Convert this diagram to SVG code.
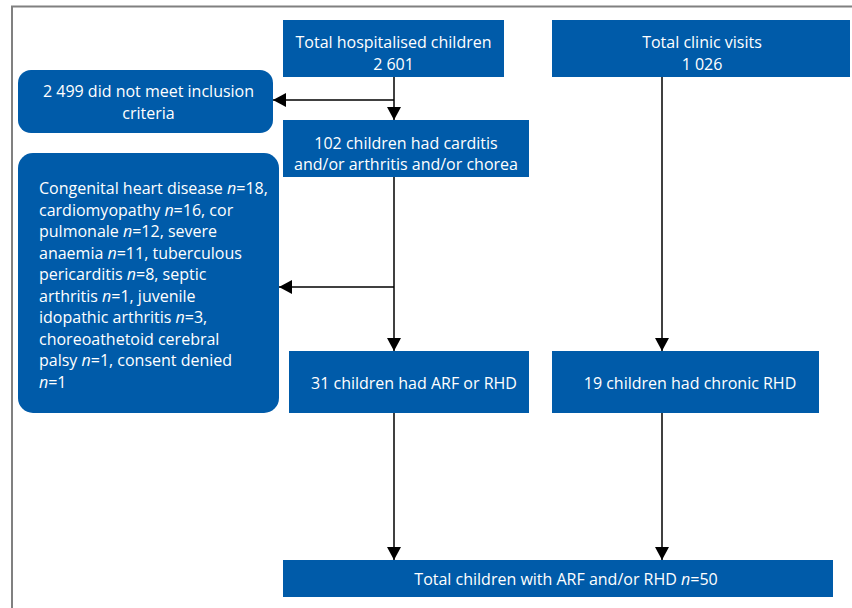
<svg xmlns="http://www.w3.org/2000/svg" width="852" height="608" viewBox="0 0 852 608">
<style>
.box{fill:#005BA9}
.t{font-family:"Open Sans","Noto Sans","Liberation Sans",sans-serif;font-size:16px;fill:#ffffff}
.c{text-anchor:middle}
.i{font-style:italic}
.ln{stroke:#000;stroke-width:1.5;fill:none}
.frame{stroke:#808080;stroke-width:2;fill:none}
</style>
<defs>
<marker id="ah" markerUnits="userSpaceOnUse" markerWidth="13" markerHeight="14" viewBox="0 0 13 14" refX="13" refY="7" orient="auto">
<path d="M0,0 L13,7 L0,14 z" fill="#000"/>
</marker>
</defs>
<rect width="852" height="608" fill="#fff"/>
<path class="frame" d="M12,608 L12,6.5 L852,6.5"/>

<g id="connectors">
<line class="ln" x1="394" y1="77" x2="394" y2="120" marker-end="url(#ah)"/>
<line class="ln" x1="394" y1="100" x2="273" y2="100" marker-end="url(#ah)"/>
<line class="ln" x1="394" y1="177" x2="394" y2="351" marker-end="url(#ah)"/>
<line class="ln" x1="394" y1="287" x2="279" y2="287" marker-end="url(#ah)"/>
<line class="ln" x1="662" y1="77" x2="662" y2="351" marker-end="url(#ah)"/>
<line class="ln" x1="394" y1="413" x2="394" y2="560" marker-end="url(#ah)"/>
<line class="ln" x1="662" y1="413" x2="662" y2="560" marker-end="url(#ah)"/>
</g>

<g id="hospitalised">
<rect class="box" x="283" y="20" width="221" height="57"/>
<text class="t c" x="393.5" y="48">Total hospitalised children</text>
<text class="t c" x="393.5" y="70">2 601</text>
</g>

<g id="clinic">
<rect class="box" x="552" y="20" width="298" height="57"/>
<text class="t c" x="702" y="48">Total clinic visits</text>
<text class="t c" x="702" y="70">1 026</text>
</g>

<g id="excluded">
<rect class="box" x="18" y="70" width="255" height="63" rx="13"/>
<text class="t c" x="148.5" y="97">2 499 did not meet inclusion</text>
<text class="t c" x="148.5" y="118.5">criteria</text>
</g>

<g id="carditis">
<rect class="box" x="283" y="120" width="246" height="57"/>
<text class="t c" x="406" y="149">102 children had carditis</text>
<text class="t c" x="406" y="169.5">and/or arthritis and/or chorea</text>
</g>

<g id="other-diagnoses">
<rect class="box" x="18" y="153" width="261" height="260" rx="15"/>
<text class="t" x="39" y="194">Congenital heart disease <tspan class="i">n</tspan>=18,</text>
<text class="t" x="39" y="215.5">cardiomyopathy <tspan class="i">n</tspan>=16, cor</text>
<text class="t" x="39" y="237">pulmonale <tspan class="i">n</tspan>=12, severe</text>
<text class="t" x="39" y="258.5">anaemia <tspan class="i">n</tspan>=11, tuberculous</text>
<text class="t" x="39" y="280">pericarditis <tspan class="i">n</tspan>=8, septic</text>
<text class="t" x="39" y="301.5">arthritis <tspan class="i">n</tspan>=1, juvenile</text>
<text class="t" x="39" y="323">idopathic arthritis <tspan class="i">n</tspan>=3,</text>
<text class="t" x="39" y="344.5">choreoathetoid cerebral</text>
<text class="t" x="39" y="366">palsy <tspan class="i">n</tspan>=1, consent denied</text>
<text class="t" x="39" y="387.5"><tspan class="i">n</tspan>=1</text>
</g>

<g id="arf-rhd">
<rect class="box" x="289" y="351" width="240" height="62"/>
<text class="t c" x="414" y="389">31 children had ARF or RHD</text>
</g>

<g id="chronic-rhd">
<rect class="box" x="552" y="351" width="267" height="62"/>
<text class="t c" x="690" y="389">19 children had chronic RHD</text>
</g>

<g id="total">
<rect class="box" x="283" y="560" width="550" height="37"/>
<text class="t c" x="566" y="585">Total children with ARF and/or RHD <tspan class="i">n</tspan>=50</text>
</g>
</svg>
